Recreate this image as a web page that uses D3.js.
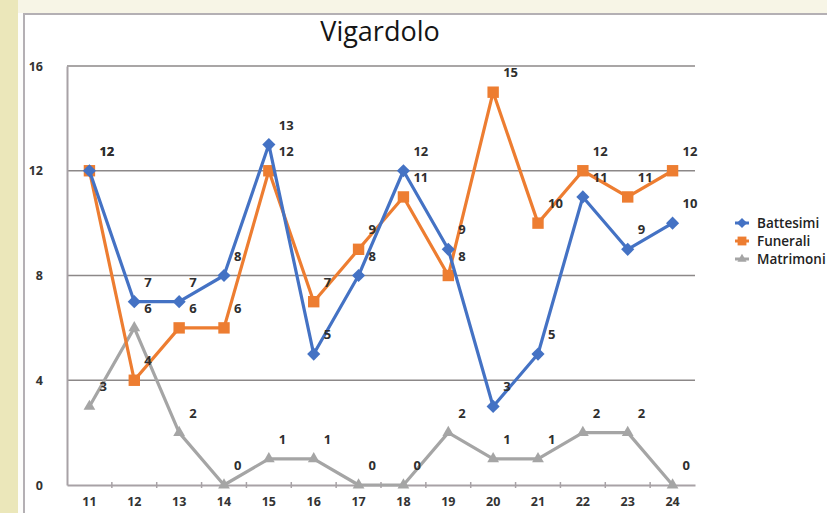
<!DOCTYPE html>
<html>
<head>
<meta charset="utf-8">
<script src="https://cdn.jsdelivr.net/npm/d3@7"></script>
<style>
  body { margin:0; background:#fff; }
  svg { display:block; }
  text { font-family: "Open Sans", "DejaVu Sans", sans-serif; }
</style>
</head>
<body>
<div id="chart"></div>
<script>
// data
const years = ["11","12","13","14","15","16","17","18","19","20","21","22","23","24"];
const battesimi = [12,7,7,8,13,5,8,12,9,3,5,11,9,10];
const funerali  = [12,4,6,6,12,7,9,11,8,15,10,12,11,12];
const matrimoni = [3,6,2,0,1,1,0,0,2,1,1,2,2,0];
const yTicks = [0,4,8,12,16];
const seriesNames = ["Battesimi","Funerali","Matrimoni"];

const W = 827, H = 513;
const svg = d3.select("#chart").append("svg").attr("width",W).attr("height",H);

// page background pieces
svg.append("rect").attr("x",0).attr("y",0).attr("width",W).attr("height",H).attr("fill","#fdfdfb");
svg.append("rect").attr("x",0).attr("y",0).attr("width",W).attr("height",13).attr("fill","#f7f5e6");
svg.append("rect").attr("x",0).attr("y",0).attr("width",18).attr("height",H).attr("fill","#ebe7ba");
svg.append("rect").attr("x",24).attr("y",14).attr("width",W).attr("height",H).attr("fill","#fff")
   .attr("stroke","#b4b0b4").attr("stroke-width",2);

// scales
const x = d3.scaleBand().domain(years).range([67,695]);
const y = d3.scaleLinear().domain([0,16]).range([485,66]);
const cx = d => x(d) + x.bandwidth()/2;

// gridlines
svg.append("g").selectAll("line")
   .data(yTicks.filter(t => t > 0))
   .enter().append("line")
   .attr("x1",67).attr("x2",695)
   .attr("y1",d => y(d)).attr("y2",d => y(d))
   .attr("stroke","#8c8888").attr("stroke-width",1.5);

// y axis
const yAxis = d3.axisLeft(y).tickValues(yTicks).tickSize(0).tickPadding(24);
const gy = svg.append("g").attr("transform","translate(67,0)").call(yAxis);
gy.select(".domain").attr("stroke","#a8a2a6").attr("stroke-width",2);
gy.selectAll("text").attr("font-size",12.5).attr("font-weight","bold").attr("fill","#333");

// x axis
const xAxis = d3.axisBottom(x).tickSize(0).tickPadding(12);
const gx = svg.append("g").attr("transform","translate(0,485)").call(xAxis);
gx.select(".domain").attr("stroke","#a8a2a6").attr("stroke-width",2);
gx.selectAll("text").attr("font-size",12.5).attr("font-weight","bold").attr("fill","#333");
// small ticks between categories
svg.append("g").selectAll("line")
   .data(years.slice(1))
   .enter().append("line")
   .attr("x1",d => x(d)).attr("x2",d => x(d))
   .attr("y1",482).attr("y2",488)
   .attr("stroke","#a8a2a6").attr("stroke-width",1.5);

// title
svg.append("text").attr("x",380).attr("y",41).attr("text-anchor","middle")
   .attr("font-size",27).attr("fill","#151515").text("Vigardolo");

const series = [
  {name: seriesNames[0], values: battesimi, color: "#4472c4", shape: d3.symbolDiamond2, size: 110},
  {name: seriesNames[1], values: funerali,  color: "#ed7d31", shape: d3.symbolSquare,  size: 130},
  {name: seriesNames[2], values: matrimoni, color: "#a5a5a5", shape: d3.symbolTriangle, size: 60}
];

const line = d3.line().x((d,i) => cx(years[i])).y(d => y(d));

// draw gray first, then orange, then blue on top
[2,1,0].forEach(k => {
  const s = series[k];
  const g = svg.append("g");
  g.append("path").datum(s.values)
   .attr("d",line).attr("fill","none")
   .attr("stroke",s.color).attr("stroke-width",3.2).attr("stroke-linejoin","round");
  g.selectAll("path.m").data(s.values).enter().append("path")
   .attr("class","m")
   .attr("d",d3.symbol().type(s.shape).size(s.size))
   .attr("transform",(d,i) => "translate(" + cx(years[i]) + "," + y(d) + ")")
   .attr("fill",s.color);
});

// data labels
series.forEach(s => {
  svg.append("g").selectAll("text").data(s.values).enter().append("text")
     .attr("x",(d,i) => cx(years[i]) + 10)
     .attr("y",d => y(d) - 15)
     .attr("font-size",13).attr("font-weight","bold").attr("fill","#2e2e2e")
     .text(d => d);
});

// legend
const legend = svg.append("g").attr("transform","translate(742,223)");
series.forEach((s,i) => {
  const row = legend.append("g").attr("transform","translate(0," + i*18 + ")");
  row.append("line").attr("x1",-7).attr("x2",7).attr("stroke",s.color).attr("stroke-width",3);
  row.append("path").attr("d",d3.symbol().type(s.shape).size(s.size*0.6)).attr("fill",s.color);
  row.append("text").attr("x",15).attr("y",5).attr("font-size",13.5).attr("font-weight",600)
     .attr("fill","#222").text(s.name);
});
</script>
</body>
</html>
